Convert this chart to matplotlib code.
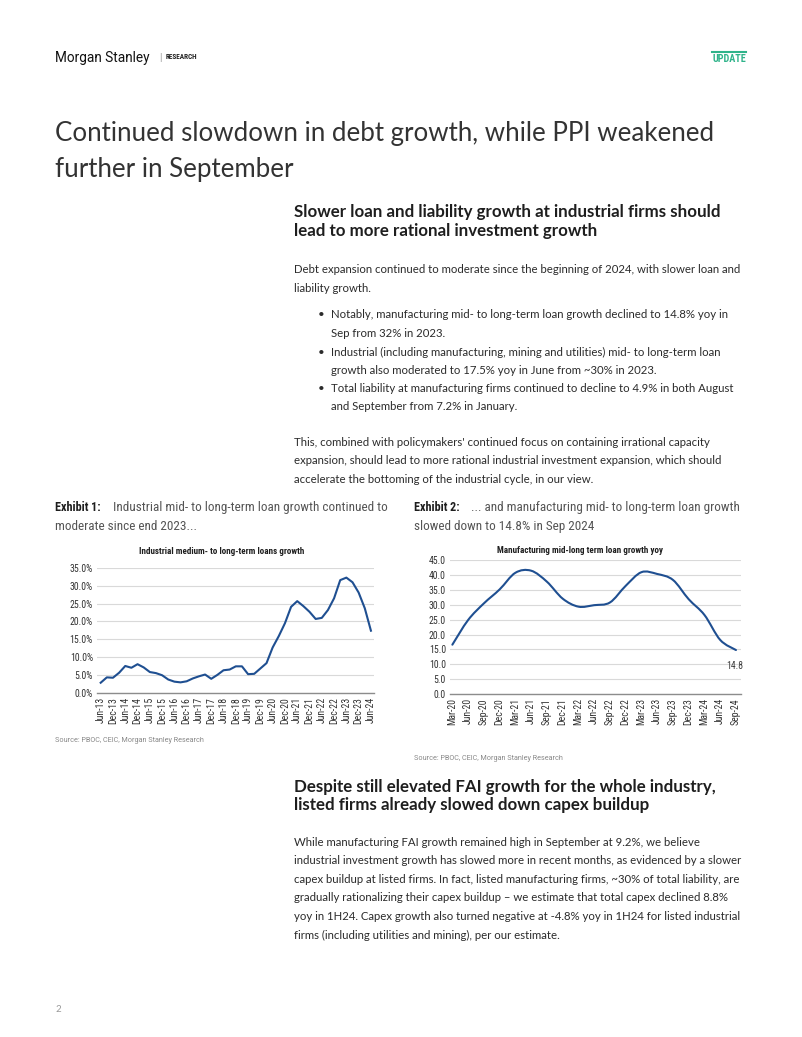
import numpy as np
import matplotlib
matplotlib.use("Agg")
import matplotlib.pyplot as plt
from matplotlib.path import Path
from matplotlib.patches import PathPatch

W, H = 802, 1037

# ---- data -----------------------------------------------------------------
# Exhibit 1: industrial medium- to long-term loan growth (%), quarterly Jun-13 .. Jun-24
ind_values = [2.8, 4.3, 4.2, 5.6, 7.5, 7.0, 8.0, 7.1, 5.8, 5.5, 4.9, 3.7,
              3.1, 2.9, 3.2, 4.0, 4.6, 5.1, 3.9, 5.0, 6.3, 6.5, 7.4, 7.4,
              5.2, 5.3, 6.8, 8.3, 12.7, 15.9, 19.5, 24.1, 25.7, 24.3, 22.7, 20.7,
              21.0, 23.2, 26.5, 31.6, 32.3, 31.0, 28.1, 23.7, 17.4]
ind_labels = ["Jun-13", "Dec-13", "Jun-14", "Dec-14", "Jun-15", "Dec-15", "Jun-16",
              "Dec-16", "Jun-17", "Dec-17", "Jun-18", "Dec-18", "Jun-19", "Dec-19",
              "Jun-20", "Dec-20", "Jun-21", "Dec-21", "Jun-22", "Dec-22", "Jun-23",
              "Dec-23", "Jun-24"]

# Exhibit 2: manufacturing mid-long term loan growth yoy (%), quarterly Mar-20 .. Sep-24
mfg_values = [16.6, 24.9, 30.5, 35.2, 40.8, 41.5, 37.8, 32.1, 29.4, 29.9,
              30.8, 36.4, 41.0, 40.4, 38.4, 31.9, 26.6, 18.2, 14.8]
mfg_labels = ["Mar-20", "Jun-20", "Sep-20", "Dec-20", "Mar-21", "Jun-21", "Sep-21",
              "Dec-21", "Mar-22", "Jun-22", "Sep-22", "Dec-22", "Mar-23", "Jun-23",
              "Sep-23", "Dec-23", "Mar-24", "Jun-24", "Sep-24"]

# ---- styling ----------------------------------------------------------------
plt.rcParams["font.family"] = ["Lato", "DejaVu Sans"]
CHART_FONT = ["Roboto Condensed", "Roboto", "DejaVu Sans"]
LINE_BLUE = "#1f4f91"
GRID = "#d9d9d9"
DARK = "#1e1e1e"
BODY = "#2b2b2b"
CAPTION = "#555555"
GREEN = "#2fb38a"
BODY_SIZE = 8.2

fig = plt.figure(figsize=(W / 100, H / 100), dpi=100)


def t(x, y, s, size=BODY_SIZE, color=BODY, weight="normal", ha="left",
      va="center_baseline", **kw):
    y = y - 1.5 - size * 0.05
    fig.text(x / W, 1 - y / H, s, fontsize=size, color=color, fontweight=weight,
             ha=ha, va=va, **kw)


def px_axes(left, top, right, bottom):
    return fig.add_axes([left / W, 1 - bottom / H, (right - left) / W, (bottom - top) / H])


# ---- header -----------------------------------------------------------------
t(55, 58, "Morgan Stanley", size=9.8, color="#111111", family=["Roboto", "DejaVu Sans"])
t(159, 58, "|", size=7, color="#888888")
t(166, 58, "RESEARCH", size=5.2, color="#222222", weight="bold", family=CHART_FONT)
t(746, 60, "UPDATE", size=7.3, color=GREEN, weight="bold", ha="right", family=CHART_FONT)
fig.add_artist(plt.Line2D([712 / W, 746 / W], [1 - 52 / H, 1 - 52 / H], color=GREEN, lw=1.5))

# ---- title ------------------------------------------------------------------
t(55, 133, "Continued slowdown in debt growth, while PPI weakened", size=18.6,
  color="#333333", weight="normal")
t(55, 169, "further in September", size=18.6, color="#333333", weight="normal")

# ---- section 1 --------------------------------------------------------------
t(294, 213, "Slower loan and liability growth at industrial firms should", size=12.15,
  color=DARK, weight="bold")
t(294, 232, "lead to more rational investment growth", size=12.15, color=DARK, weight="bold")

t(294, 270, "Debt expansion continued to moderate since the beginning of 2024, with slower loan and")
t(294, 289, "liability growth.")

bullets = [
    (315, "Notably, manufacturing mid- to long-term loan growth declined to 14.8% yoy in", True),
    (334, "Sep from 32% in 2023.", False),
    (353, "Industrial (including manufacturing, mining and utilities) mid- to long-term loan", True),
    (371, "growth also moderated to 17.5% yoy in June from ~30% in 2023.", False),
    (389, "Total liability at manufacturing firms continued to decline to 4.9% in both August", True),
    (407, "and September from 7.2% in January.", False),
]
for y, s, dot in bullets:
    if dot:
        t(318, y, "\u2022")
    t(331, y, s)

t(294, 443, "This, combined with policymakers' continued focus on containing irrational capacity")
t(294, 461, "expansion, should lead to more rational industrial investment expansion, which should")
t(294, 480, "accelerate the bottoming of the industrial cycle, in our view.")

# ---- exhibit captions -------------------------------------------------------
t(55, 508, "Exhibit 1:", size=8.7, color=DARK, weight="bold", family=CHART_FONT)
t(113, 508, "Industrial mid- to long-term loan growth continued to", size=9.5, color=CAPTION,
  family=CHART_FONT)
t(55, 527, "moderate since end 2023...", size=9.5, color=CAPTION, family=CHART_FONT)
t(414, 508, "Exhibit 2:", size=8.7, color=DARK, weight="bold", family=CHART_FONT)
t(471, 508, "... and manufacturing mid- to long-term loan growth", size=9.5, color=CAPTION,
  family=CHART_FONT)
t(414, 527, "slowed down to 14.8% in Sep 2024", size=9.5, color=CAPTION, family=CHART_FONT)

# ---- exhibit 1 chart --------------------------------------------------------
ax1 = px_axes(97, 568, 374, 692.7)
x1 = np.arange(len(ind_values))
ax1.plot(x1, ind_values, color=LINE_BLUE, lw=1.5, solid_joinstyle="round")
ax1.set_xlim(-0.6, len(ind_values) - 1 + 0.5)
ax1.set_ylim(0, 35)
ax1.set_yticks(np.arange(0, 36, 5))
ax1.set_yticklabels([f"{v:.1f}%" for v in np.arange(0, 36, 5)])
ax1.set_xticks(np.arange(0, len(ind_values), 2))
ax1.set_xticklabels(ind_labels, rotation=90)
t(222, 552, "Industrial medium- to long-term loans growth", size=6.5, color=DARK,
  weight="bold", ha="center", family=CHART_FONT)
t(55, 741, "Source: PBOC, CEIC, Morgan Stanley Research", size=5.2, color="#888888",
  family=["Roboto", "DejaVu Sans"])

# ---- exhibit 2 chart --------------------------------------------------------
ax2 = px_axes(450, 560.3, 741, 694)
x2 = np.arange(len(mfg_values), dtype=float)
y2 = np.array(mfg_values)
# smoothed line (Catmull-Rom segments as cubic Beziers through the data points)
verts = [(x2[0], y2[0])]
codes = [Path.MOVETO]
n = len(x2)
for i in range(n - 1):
    p0 = np.array([x2[max(i - 1, 0)], y2[max(i - 1, 0)]])
    p1 = np.array([x2[i], y2[i]])
    p2 = np.array([x2[i + 1], y2[i + 1]])
    p3 = np.array([x2[min(i + 2, n - 1)], y2[min(i + 2, n - 1)]])
    c1 = p1 + (p2 - p0) / 6
    c2 = p2 - (p3 - p1) / 6
    verts += [tuple(c1), tuple(c2), tuple(p2)]
    codes += [Path.CURVE4] * 3
ax2.add_patch(PathPatch(Path(verts, codes), fill=False, edgecolor=LINE_BLUE, lw=1.5,
                        capstyle="round", joinstyle="round"))
ax2.set_xlim(-0.15, n - 1 + 0.32)
ax2.set_ylim(0, 45)
ax2.set_yticks(np.arange(0, 46, 5))
ax2.set_yticklabels([f"{v:.1f}" for v in np.arange(0, 46, 5)])
ax2.set_xticks(x2)
ax2.set_xticklabels(mfg_labels, rotation=90)
ax2.annotate(f"{mfg_values[-1]:.1f}", (x2[-1], y2[-1]), xytext=(-1, -8),
             textcoords="offset points", ha="center", va="top", fontsize=7.0,
             color="#404040", family=CHART_FONT)
t(580, 551, "Manufacturing mid-long term loan growth yoy", size=6.5, color=DARK,
  weight="bold", ha="center", family=CHART_FONT)
t(414, 759, "Source: PBOC, CEIC, Morgan Stanley Research", size=5.2, color="#888888",
  family=["Roboto", "DejaVu Sans"])

for ax in (ax1, ax2):
    ax.set_facecolor("none")
    for side in ("top", "right", "left"):
        ax.spines[side].set_visible(False)
    ax.spines["bottom"].set_color("#8c8c8c")
    ax.spines["bottom"].set_linewidth(1.0)
    ax.grid(axis="y", color=GRID, lw=0.8)
    ax.set_axisbelow(True)
    ax.tick_params(axis="both", length=0, labelsize=7.0, colors="#333333", pad=3)
    for lab in ax.get_xticklabels() + ax.get_yticklabels():
        lab.set_family(CHART_FONT)

# ---- section 2 --------------------------------------------------------------
t(294, 788, "Despite still elevated FAI growth for the whole industry,", size=12.15,
  color=DARK, weight="bold")
t(294, 806, "listed firms already slowed down capex buildup", size=12.15, color=DARK, weight="bold")

para2 = [
    "While manufacturing FAI growth remained high in September at 9.2%, we believe",
    "industrial investment growth has slowed more in recent months, as evidenced by a slower",
    "capex buildup at listed firms. In fact, listed manufacturing firms, ~30% of total liability, are",
    "gradually rationalizing their capex buildup \u2013 we estimate that total capex declined 8.8%",
    "yoy in 1H24. Capex growth also turned negative at -4.8% yoy in 1H24 for listed industrial",
    "firms (including utilities and mining), per our estimate.",
]
for i, s in enumerate(para2):
    t(294, 843 + i * 18.6, s)

t(55, 1010, "2", size=7, color="#999999")

fig.savefig("out.png", dpi=100)
